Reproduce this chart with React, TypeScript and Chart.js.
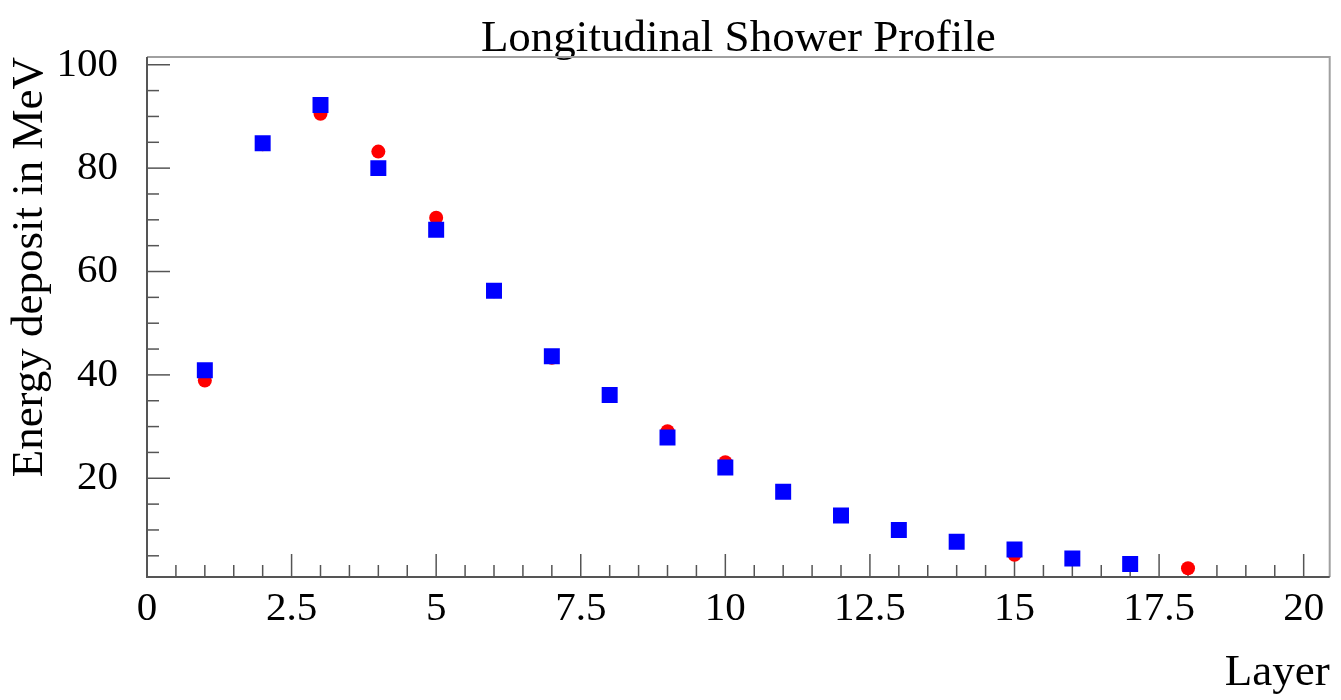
import React, { useEffect, useRef } from "react";
import { Chart, registerables } from "chart.js";

Chart.register(...registerables);

// ---- data ----
const LAYERS = [1, 2, 3, 4, 5, 6, 7, 8, 9, 10, 11, 12, 13, 14, 15, 16, 17, 18];
const RED_VALUES = [38.9, 84.6, 90.5, 83.2, 70.4, 56.2, 43.3, 36.0, 29.1, 23.1, 17.5, 12.8, 10.0, 7.7, 5.2, 4.5, 3.4, 2.6];
const BLUE_VALUES = [40.9, 84.8, 92.2, 80.0, 68.1, 56.3, 43.6, 36.1, 27.9, 22.1, 17.4, 12.8, 10.0, 7.7, 6.2, 4.5, 3.4];

const X_TICKS = [0, 2.5, 5, 7.5, 10, 12.5, 15, 17.5, 20];
const Y_TICKS = [20, 40, 60, 80, 100];
const X_MINOR_STEP = 0.5;
const Y_MINOR_STEP = 5;

const TITLE = "Longitudinal Shower Profile";
const X_TITLE = "Layer";
const Y_TITLE = "Energy deposit in MeV";

const SERIF = "'Liberation Serif', 'Times New Roman', 'DejaVu Serif', serif";

const rootFramePlugin = {
  id: "rootFrame",
  beforeDatasetsDraw(chart: any) {
    const { ctx, chartArea: a, scales } = chart;
    const xs = scales.x;
    const ys = scales.y;
    ctx.save();
    ctx.lineWidth = 1.5;
    ctx.strokeStyle = "#555";
    // x ticks (inside, pointing up)
    const nx = Math.floor(xs.max / X_MINOR_STEP + 1e-9);
    for (let i = 0; i <= nx; i++) {
      const v = i * X_MINOR_STEP;
      const major = X_TICKS.some((t) => Math.abs(t - v) < 1e-9);
      const px = xs.getPixelForValue(v);
      const len = major ? 23 : 12;
      ctx.beginPath();
      ctx.moveTo(px, a.bottom);
      ctx.lineTo(px, a.bottom - len);
      ctx.stroke();
    }
    // y ticks (inside, pointing right)
    const ny = Math.floor(ys.max / Y_MINOR_STEP + 1e-9);
    for (let i = 1; i <= ny; i++) {
      const v = i * Y_MINOR_STEP;
      if (v < ys.min) continue;
      const major = Y_TICKS.some((t) => Math.abs(t - v) < 1e-9);
      const py = ys.getPixelForValue(v);
      const len = major ? 23 : 12;
      ctx.beginPath();
      ctx.moveTo(a.left, py);
      ctx.lineTo(a.left + len, py);
      ctx.stroke();
    }
    // frame
    ctx.lineWidth = 2;
    ctx.strokeStyle = "#a0a0a0";
    ctx.beginPath();
    ctx.moveTo(a.left, a.top);
    ctx.lineTo(a.right, a.top);
    ctx.lineTo(a.right, a.bottom);
    ctx.stroke();
    ctx.strokeStyle = "#555";
    ctx.beginPath();
    ctx.moveTo(a.left, a.top);
    ctx.lineTo(a.left, a.bottom);
    ctx.lineTo(a.right, a.bottom);
    ctx.stroke();
    ctx.restore();
  },
};

export default function App() {
  const ref = useRef<HTMLCanvasElement>(null);

  useEffect(() => {
    const canvas = ref.current;
    if (!canvas) return;

    const redData = RED_VALUES.map((v, i) => ({ x: LAYERS[i], y: v }));
    const blueData = BLUE_VALUES.map((v, i) => ({ x: LAYERS[i], y: v }));

    const chart = new Chart(canvas, {
      type: "scatter",
      data: {
        datasets: [
          {
            label: "blue",
            data: blueData,
            pointStyle: "rect",
            pointRadius: 11.3,
            pointHoverRadius: 11.3,
            backgroundColor: "#0000ff",
            borderColor: "#0000ff",
            borderWidth: 0,
            order: 0,
          },
          {
            label: "red",
            data: redData,
            pointStyle: "circle",
            pointRadius: 7,
            pointHoverRadius: 7,
            backgroundColor: "#ff0000",
            borderColor: "#ff0000",
            borderWidth: 0,
            order: 1,
          },
        ],
      },
      options: {
        responsive: false,
        animation: false,
        events: [],
        layout: { padding: { left: 0, right: 8, top: 0, bottom: 0 } },
        plugins: {
          legend: { display: false },
          tooltip: { enabled: false },
          title: {
            display: true,
            text: TITLE,
            fullSize: false,
            color: "#000",
            font: { family: SERIF, size: 45, weight: "normal", lineHeight: 0.8 },
            padding: { top: 21, bottom: 0 },
          },
        },
        scales: {
          x: {
            type: "linear",
            min: 0,
            max: 20.45,
            afterFit(s: any) {
              s.height = 123;
              s.paddingLeft = 0;
              s.paddingRight = 0;
            },
            afterBuildTicks(s: any) {
              s.ticks = X_TICKS.map((v) => ({ value: v }));
            },
            grid: { display: false, drawTicks: false },
            border: { display: false },
            ticks: {
              color: "#000",
              font: { family: SERIF, size: 41 },
              padding: 8,
              maxRotation: 0,
              autoSkip: false,
              callback: (v: any) => String(v),
            },
            title: {
              display: true,
              text: X_TITLE,
              align: "end",
              color: "#000",
              font: { family: SERIF, size: 45, lineHeight: 1 },
              padding: { top: 0, bottom: 4 },
            },
          },
          y: {
            type: "linear",
            min: 0.9,
            max: 101.5,
            afterFit(s: any) {
              s.width = 147;
              s.paddingTop = 0;
              s.paddingBottom = 0;
            },
            afterBuildTicks(s: any) {
              s.ticks = Y_TICKS.map((v) => ({ value: v }));
            },
            grid: { display: false, drawTicks: false },
            border: { display: false },
            ticks: {
              color: "#000",
              font: { family: SERIF, size: 41 },
              padding: 29,
              autoSkip: false,
              callback: (v: any) => String(v),
            },
            title: {
              display: true,
              text: Y_TITLE,
              align: "end",
              color: "#000",
              font: { family: SERIF, size: 45, lineHeight: 1 },
              padding: { top: 8, bottom: 0 },
            },
          },
        },
      },
      plugins: [rootFramePlugin],
    } as any);

    return () => chart.destroy();
  }, []);

  return (
    <div style={{ position: "fixed", left: 0, top: 0, width: 1341, height: 700, background: "#fff" }}>
      <canvas ref={ref} width={1341} height={700} style={{ display: "block", width: 1341, height: 700 }} />
    </div>
  );
}
